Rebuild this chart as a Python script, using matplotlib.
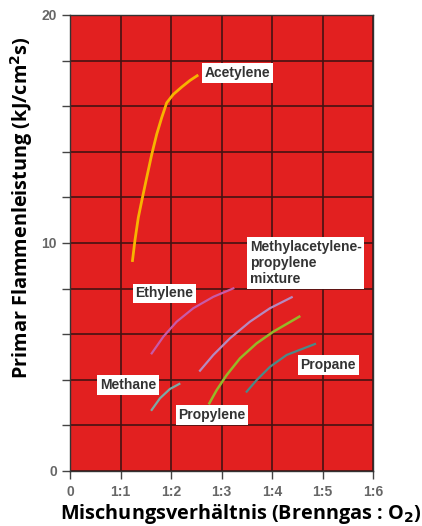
import matplotlib
matplotlib.use("Agg")
import matplotlib.pyplot as plt

# Data
x_ticks = [0, 1, 2, 3, 4, 5, 6]
x_ticklabels = ["0", "1:1", "1:2", "1:3", "1:4", "1:5", "1:6"]
y_ticks = [0, 2, 4, 6, 8, 10, 12, 14, 16, 18, 20]
y_ticklabels = ["0", "", "", "", "", "10", "", "", "", "", "20"]

acetylene_x = [1.234, 1.287, 1.352, 1.42, 1.518, 1.618, 1.717, 1.816, 1.915, 2.046, 2.212, 2.376, 2.54]
acetylene_y = [9.17, 10.13, 11.11, 11.84, 12.86, 13.88, 14.77, 15.5, 16.15, 16.52, 16.84, 17.13, 17.37]

ethylene_x = [1.618, 1.848, 2.113, 2.442, 2.838, 3.234]
ethylene_y = [5.16, 5.89, 6.55, 7.14, 7.64, 8.01]

mixture_x = [2.574, 2.838, 3.168, 3.564, 3.96, 4.39]
mixture_y = [4.40, 5.09, 5.82, 6.55, 7.14, 7.62]

propylene_x = [2.759, 2.905, 3.103, 3.366, 3.696, 4.026, 4.54]
propylene_y = [2.97, 3.55, 4.21, 4.94, 5.60, 6.11, 6.77]

propane_x = [3.499, 3.697, 3.96, 4.291, 4.851]
propane_y = [3.48, 3.99, 4.57, 5.09, 5.57]

methane_x = [1.618, 1.782, 1.98, 2.165]
methane_y = [2.68, 3.19, 3.60, 3.82]

fig = plt.figure(figsize=(4.22, 5.26), dpi=100)
ax = fig.add_axes([70/422, 1-471/526, (373-70)/422, (471-15)/526])
ax.set_facecolor("#e22020")
ax.set_xlim(0, 6)
ax.set_ylim(0, 20)
ax.set_xticks(x_ticks)
ax.set_xticklabels(x_ticklabels)
ax.set_yticks(y_ticks)
ax.set_yticklabels(y_ticklabels)
ax.grid(True, color="#451212", linewidth=1.2)
ax.set_axisbelow(True)
for s in ax.spines.values():
    s.set_color("#333333")
    s.set_linewidth(1.0)
ax.tick_params(axis="both", colors="#444444", labelcolor="#666666", labelsize=10,
               length=6, width=1)
ax.tick_params(axis="x", pad=4)
for lab in ax.get_xticklabels() + ax.get_yticklabels():
    lab.set_fontweight("bold")
    lab.set_family("Liberation Sans")

ax.plot(acetylene_x, acetylene_y, color="#f7b400", lw=2, solid_capstyle="butt")
ax.plot(ethylene_x, ethylene_y, color="#c85aa8", lw=1.6)
ax.plot(mixture_x, mixture_y, color="#b58ac0", lw=1.6)
ax.plot(propylene_x, propylene_y, color="#96b828", lw=1.8)
ax.plot(propane_x, propane_y, color="#4a8a88", lw=1.6)
ax.plot(methane_x, methane_y, color="#7aaaa6", lw=1.6)

box = dict(boxstyle="square,pad=0.2", fc="white", ec="none")
kw = dict(fontsize=10, fontweight="bold", color="#333333", bbox=box,
          family="Liberation Sans")
ax.text(2.67, 17.46, "Acetylene", ha="left", va="center", **kw)
ax.text(1.87, 7.79, "Ethylene", ha="center", va="center", **kw)
ax.text(3.56, 10.15, "Methylacetylene-\npropylene\nmixture", ha="left", va="top",
        linespacing=1.2, **kw)
ax.text(1.15, 3.77, "Methane", ha="center", va="center", **kw)
ax.text(2.81, 2.46, "Propylene", ha="center", va="center", **kw)
ax.text(5.11, 4.65, "Propane", ha="center", va="center", **kw)

fig.text(22/422, 1-208/526, "Primar Flammenleistung (kJ/cm$^\\mathbf{2}$s)", rotation=90,
         ha="center", va="center", fontsize=14.3, fontweight="bold", family="Open Sans")
fig.text(60/422, 1-514/526, "Mischungsverhältnis (Brenngas : O$_\\mathbf{2}$)",
         ha="left", va="center", fontsize=14.3, fontweight="bold", family="Open Sans")

fig.savefig("out.png", dpi=100)
